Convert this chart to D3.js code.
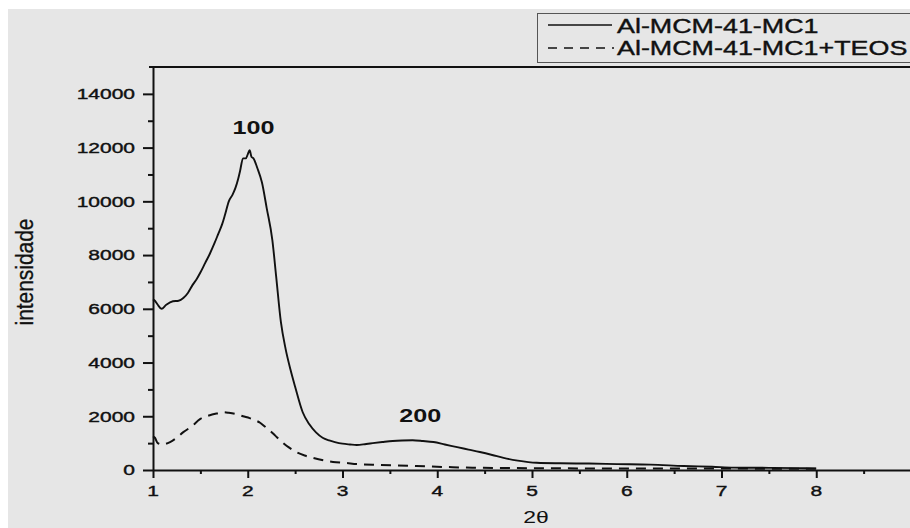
<!DOCTYPE html>
<html>
<head>
<meta charset="utf-8">
<script src="https://cdnjs.cloudflare.com/ajax/libs/d3/7.8.5/d3.min.js"></script>
<style>
  html, body { margin: 0; padding: 0; background: #fff; }
  svg { display: block; }
</style>
</head>
<body>
<div id="chart"></div>
<script>
'use strict';

// series names as in the legend
const seriesNames = ["Al-MCM-41-MC1", "Al-MCM-41-MC1+TEOS"];

// Al-MCM-41-MC1 (solid)
const solidX = [1.00, 1.02, 1.05, 1.09, 1.14, 1.21, 1.27, 1.32, 1.37, 1.42, 1.46, 1.50, 1.55, 1.60,
    1.65, 1.69, 1.73, 1.76, 1.80, 1.84, 1.87, 1.90, 1.92, 1.95, 1.98, 2.00, 2.02, 2.04, 2.06,
    2.10, 2.15, 2.20, 2.26, 2.30, 2.35, 2.40, 2.45, 2.50, 2.58, 2.65, 2.72, 2.79, 2.86, 2.92,
    3.00, 3.08, 3.15, 3.25, 3.32, 3.42, 3.53, 3.63, 3.74, 3.85, 3.96, 4.08, 4.21, 4.33, 4.45,
    4.58, 4.70, 4.85, 5.05, 5.30, 5.60, 5.90, 6.25, 6.60, 6.90, 7.13, 7.50, 7.80, 8.00];
const solidY = [6350, 6300, 6150, 6000, 6150, 6280, 6300, 6400, 6600, 6900, 7100, 7350, 7700, 8050,
    8450, 8800, 9150, 9500, 10000, 10250, 10500, 10850, 11150, 11600, 11600, 11750, 11900, 11650, 11600,
    11250, 10700, 9750, 8550, 7200, 5500, 4500, 3750, 3100, 2150, 1700, 1400, 1200, 1100, 1040,
    980, 950, 930, 970, 1000, 1040, 1080, 1100, 1110, 1080, 1040, 950, 850, 760, 670,
    560, 450, 350, 270, 250, 240, 220, 200, 150, 120, 90, 80, 70, 60];

// Al-MCM-41-MC1+TEOS (dashed)
const dashedX = [1.00, 1.02, 1.05, 1.10, 1.18, 1.25, 1.32, 1.40, 1.50, 1.60, 1.67, 1.74, 1.80, 1.88,
    1.95, 2.02, 2.08, 2.13, 2.18, 2.23, 2.29, 2.35, 2.43, 2.51, 2.60, 2.69, 2.80, 2.90, 3.04,
    3.15, 3.40, 3.78, 4.10, 4.37, 4.84, 5.50, 6.50, 7.50, 8.00];
const dashedY = [1250, 1200, 1000, 950, 1040, 1200, 1410, 1600, 1900, 2040, 2100, 2150, 2130, 2080,
    2000, 1930, 1850, 1760, 1620, 1480, 1280, 1080, 850, 670, 540, 450, 360, 300, 260,
    220, 190, 150, 110, 85, 70, 60, 55, 50, 45];

const xTicks = [1, 2, 3, 4, 5, 6, 7, 8, 9];
const xTickLabels = [1, 2, 3, 4, 5, 6, 7, 8];
const xMinorTicks = [1.5, 2.5, 3.5, 4.5, 5.5, 6.5, 7.5, 8.5];
const yTicks = [0, 2000, 4000, 6000, 8000, 10000, 12000, 14000];
const yMinorTicks = [1000, 3000, 5000, 7000, 9000, 11000, 13000];

// reflection labels
const peakLabels = ["100", "200"];
const peakX = [2.06, 3.82];
const peakY = [12500, 1780];

const W = 910, H = 528;
const FONT = "'Liberation Sans', Arial, sans-serif";

const svg = d3.select("#chart").append("svg")
    .attr("width", W)
    .attr("height", H);

svg.append("rect").attr("width", W).attr("height", H).attr("fill", "#fff");
svg.append("rect")
    .attr("x", 8).attr("y", 9)
    .attr("width", W - 8).attr("height", H - 9)
    .attr("fill", "#e6e6e6");

const x = d3.scaleLinear().domain([1, 9]).range([153, 911]);
const y = d3.scaleLinear().domain([0, 15000]).range([470, 67]);

// stretched text, the original picture is wider than its fonts
function label(g, px, py, str, opts) {
    const thick = opts.thick === undefined ? 0.4 : opts.thick;
    return g.append("text")
        .attr("transform", `translate(${px},${py}) scale(${opts.sx || 1},1)`)
        .attr("text-anchor", opts.anchor || "start")
        .attr("dy", opts.dy || null)
        .attr("font-family", FONT)
        .attr("font-size", opts.size)
        .attr("font-weight", opts.weight || "normal")
        .attr("fill", "#111")
        .attr("stroke", thick ? "#111" : null)
        .attr("stroke-width", thick || null)
        .text(str);
}

// axes
const axisColor = "#111";
function styleAxis(g) {
    g.selectAll("path, line").attr("stroke", axisColor).attr("stroke-width", 2);
}

svg.append("g")
    .attr("transform", `translate(${x(1)},0)`)
    .call(d3.axisLeft(y).tickValues(yTicks).tickSize(10).tickSizeOuter(0).tickFormat(""))
    .call(styleAxis);
svg.append("g")
    .attr("transform", `translate(${x(1)},0)`)
    .call(d3.axisLeft(y).tickValues(yMinorTicks).tickSize(5).tickSizeOuter(0).tickFormat(""))
    .call(styleAxis)
    .select(".domain").remove();

svg.append("g")
    .attr("transform", `translate(0,${y(0)})`)
    .call(d3.axisBottom(x).tickValues(xTicks).tickSize(8).tickSizeOuter(0).tickFormat(""))
    .call(styleAxis);
svg.append("g")
    .attr("transform", `translate(0,${y(0)})`)
    .call(d3.axisBottom(x).tickValues(xMinorTicks).tickSize(4).tickSizeOuter(0).tickFormat(""))
    .call(styleAxis)
    .select(".domain").remove();

// top frame
svg.append("line")
    .attr("x1", x(1) - 4).attr("x2", W)
    .attr("y1", y(15000)).attr("y2", y(15000))
    .attr("stroke", axisColor).attr("stroke-width", 2);

const labels = svg.append("g");
yTicks.forEach(v => label(labels, 135, y(v), v, {size: 15, sx: 1.4, anchor: "end", dy: "0.35em"}));
xTickLabels.forEach(v => label(labels, x(v), 496, v, {size: 15, sx: 1.4, anchor: "middle"}));

label(labels, 536, 523, "2θ", {size: 17, sx: 1.35, anchor: "middle", thick: 0});
labels.append("text")
    .attr("transform", "translate(33,272) rotate(-90) scale(0.95,1.1)")
    .attr("text-anchor", "middle")
    .attr("font-family", FONT)
    .attr("font-size", 22)
    .attr("fill", "#111")
    .attr("stroke", "#111")
    .attr("stroke-width", 0.3)
    .text("intensidade");

// curves
const line = d3.line()
    .x(d => x(d[0]))
    .y(d => y(d[1]))
    .curve(d3.curveMonotoneX);

const solid = solidX.map((v, i) => [v, solidY[i]]);
const dashed = dashedX.map((v, i) => [v, dashedY[i]]);

svg.append("path")
    .datum(dashed)
    .attr("d", line)
    .attr("fill", "none")
    .attr("stroke", "#111")
    .attr("stroke-width", 2)
    .attr("stroke-dasharray", "10,7");

svg.append("path")
    .datum(solid)
    .attr("d", line)
    .attr("fill", "none")
    .attr("stroke", "#111")
    .attr("stroke-width", 1.9);

peakLabels.forEach((t, i) => label(labels, x(peakX[i]), y(peakY[i]), t, {size: 18, sx: 1.4, anchor: "middle", weight: "bold", thick: 0}));

// legend
const legend = svg.append("g");
legend.append("rect")
    .attr("x", 537.5).attr("y", 13.5)
    .attr("width", 390).attr("height", 49)
    .attr("fill", "none")
    .attr("stroke", "#555")
    .attr("stroke-width", 1);
legend.append("line")
    .attr("x1", 548).attr("x2", 612).attr("y1", 25).attr("y2", 25)
    .attr("stroke", "#111").attr("stroke-width", 1.6);
legend.append("line")
    .attr("x1", 548).attr("x2", 614).attr("y1", 48).attr("y2", 48)
    .attr("stroke", "#111").attr("stroke-width", 1.6)
    .attr("stroke-dasharray", "9,7");
label(legend, 617, 33, seriesNames[0], {size: 21, sx: 1.28});
label(legend, 617, 55, seriesNames[1], {size: 21, sx: 1.28});
</script>
</body>
</html>
